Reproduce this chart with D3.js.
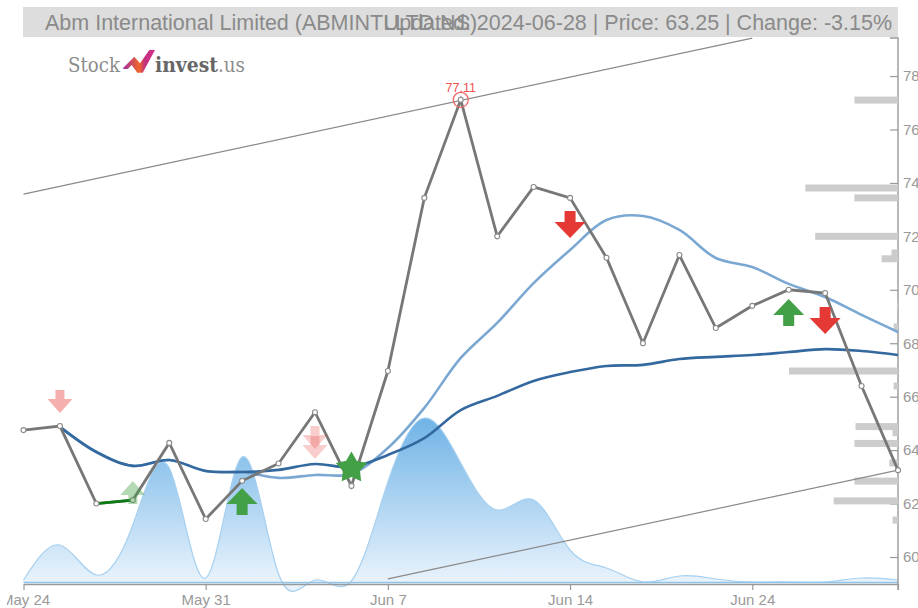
<!DOCTYPE html>
<html><head><meta charset="utf-8">
<script src="https://cdnjs.cloudflare.com/ajax/libs/d3/7.8.5/d3.min.js"></script>
<style>html,body{margin:0;padding:0;background:#fff;overflow:hidden}svg{display:block}text{font-family:"Liberation Sans",Arial,sans-serif}</style>
</head><body><svg id="c" width="918" height="608"></svg>
<script>
const dates=["May 24","May 27","May 28","May 29","May 30","May 31","Jun 3","Jun 4","Jun 5","Jun 6","Jun 7","Jun 10","Jun 11","Jun 12","Jun 13","Jun 14","Jun 18","Jun 19","Jun 20","Jun 21","Jun 24","Jun 25","Jun 26","Jun 27","Jun 28"];
const xTickLabels=["May 24","May 31","Jun 7","Jun 14","Jun 24"];
const yTicks=[60,62,64,66,68,70,72,74,76,78];
const closes=[64.75,64.9,62.0,62.13,64.27,61.42,62.85,63.5,65.42,62.66,66.96,73.44,77.11,72.0,73.85,73.44,71.2,68.0,71.3,68.57,69.4,70.0,69.88,66.4,63.25];
const maShort=[null,64.87,63.93,63.41,63.63,63.22,63.18,63.26,63.48,63.37,63.82,64.45,65.5,66.03,66.59,66.92,67.15,67.19,67.41,67.49,67.56,67.67,67.78,67.71,67.56];
const maLong=[null,64.87,63.93,63.41,63.63,63.22,63.18,62.96,63.07,63.11,64.08,65.58,67.45,68.76,70.25,71.49,72.61,72.76,72.24,71.19,70.85,70.22,69.73,69.06,68.42];
const volumes=[2,37,7,57,114,4,125,8,2,1,100,164,119,72,82,32,14,0,6,3,0,0,0,4,2];
const barPrices=[77.1,73.81,73.44,72.0,71.38,71.16,69.39,68.61,66.96,66.4,64.88,64.65,64.25,63.52,62.84,62.1,61.38];
const barSizes=[40,85,40,76,6,15,1,4,100,4,39,5,40,8,40,59,5];
const upperTrend=[[0,73.58],[20,79.42]];
const lowerTrend=[[10,59.18],[24,63.25]];
const signalIndex=[1,3,6,8,8,9,15,21,22];
const signalPrice=[65.39,62.84,62.58,64.04,63.67,63.33,71.94,69.66,68.35];
const signalKind=["down","up","up","down","down","star","down","up","down"];
const signalFade=[0.4,0.4,1,0.25,0.25,1,1,1,1];
const highIndex=12, highValue=77.11;
const greenRun=[2,3];

const svg=d3.select("#c");
const L=23.5,R=898,T=38,B=584;
const x=d3.scaleLinear().domain([0,24]).range([L,R]);
const y=d3.scaleLinear().domain([60,78]).range([557,76.04]);
const yv=d3.scaleLinear().domain([0,164]).range([582,418]);
const xb=d3.scaleLinear().domain([0,100]).range([R,R-109]);
const defs=svg.append("defs");
const grad=defs.append("linearGradient").attr("id","vg").attr("gradientUnits","userSpaceOnUse").attr("x1",0).attr("x2",0).attr("y1",418).attr("y2",582);
grad.append("stop").attr("offset",0).attr("stop-color","#6fb3e6");
grad.append("stop").attr("offset",1).attr("stop-color","#e9f3fc");
const lg=defs.append("linearGradient").attr("id","lg").attr("x1",0).attr("x2",1).attr("y1",0).attr("y2",0);
lg.append("stop").attr("offset",0).attr("stop-color","#a02fa0");
lg.append("stop").attr("offset",.5).attr("stop-color","#f0662a");
lg.append("stop").attr("offset",.68).attr("stop-color","#c2307f");
lg.append("stop").attr("offset",1).attr("stop-color","#d8308a");
defs.append("clipPath").attr("id","pc2").append("rect").attr("x",7).attr("y",-10).attr("width",911).attr("height",40);

// title band
svg.append("rect").attr("x",23).attr("y",7).attr("width",875).attr("height",30).attr("fill","#dddddd");
svg.append("text").attr("x",45).attr("y",29.5).attr("font-size",21.5).attr("fill","#8a8a8a").text("Abm International Limited (ABMINTLLTD.NS)");
svg.append("text").attr("x",892).attr("y",29.5).attr("text-anchor","end").attr("font-size",21.5).attr("fill","#8a8a8a").text("Updated: 2024-06-28 | Price: 63.25 | Change: -3.15%");

// logo
const logo=svg.append("g");
logo.append("text").attr("x",68).attr("y",71.5).attr("font-size",20).attr("fill","#8c8c8c").style("font-family","'DejaVu Serif'").attr("textLength",52).attr("lengthAdjust","spacingAndGlyphs").text("Stock");
logo.append("path").attr("d","M123.3,67.7 L134.3,56.7 L140,63.3 L149.3,50 L155,50 L142.7,72.7 L137.3,72.7 L131.7,65 L127.7,69 L123.3,69 Z").attr("fill","url(#lg)");
logo.append("text").attr("x",155).attr("y",71.5).attr("font-size",20).attr("fill","#666").attr("font-weight",700).style("font-family","'DejaVu Serif'").attr("textLength",63).attr("lengthAdjust","spacingAndGlyphs").text("invest");
logo.append("text").attr("x",218).attr("y",71.5).attr("font-size",20).attr("fill","#8c8c8c").style("font-family","'DejaVu Serif'").attr("textLength",27).attr("lengthAdjust","spacingAndGlyphs").text(".us");

// volume area
const idx=d3.range(dates.length);
const area=d3.area().x(i=>x(i)).y0(582).y1(i=>yv(volumes[i])).curve(d3.curveNatural);
svg.append("path").attr("d",area(idx)).attr("fill","url(#vg)");
svg.append("path").attr("d",d3.line().x(i=>x(i)).y(i=>yv(volumes[i])).curve(d3.curveNatural)(idx)).attr("fill","none").attr("stroke","#a6d0f0").attr("stroke-width",1.2);
svg.append("line").attr("x1",L).attr("x2",R).attr("y1",582.5).attr("y2",582.5).attr("stroke","#8fc3ea").attr("stroke-width",1.5);

// axes
const fmt=i=>dates[i];
const xTicks=xTickLabels.map(d=>dates.indexOf(d)).concat([24]);
const ax=svg.append("g").attr("transform",`translate(0,${B})`).attr("clip-path","url(#pc2)")
 .call(d3.axisBottom(x).tickValues(xTicks).tickFormat(i=>i===24?"":fmt(i)).tickSize(6).tickSizeOuter(0).tickPadding(6));
const ay=svg.append("g").attr("transform",`translate(${R},0)`)
 .call(d3.axisRight(y).tickValues(yTicks).tickSize(-8).tickSizeOuter(-8).tickPadding(5).tickFormat(d3.format("d")));
ay.select(".domain").attr("d",`M-8,${T}H0V${B+6}`);
[ax,ay].forEach(g=>{g.selectAll(".domain").attr("stroke","#999").attr("stroke-width",1.4).attr("fill","none");
 g.selectAll(".tick line").attr("stroke","#999").attr("stroke-width",1.2);
 g.selectAll("text").attr("fill","#999").attr("font-size",15).style("font-family","'Liberation Sans'");});
ax.selectAll(".tick text").attr("dy","0.62em").attr("dx",i=>i===0?1.5:0);

// volume-at-price bars
svg.append("g").selectAll("rect").data(barPrices).join("rect")
 .attr("x",(d,i)=>xb(barSizes[i])).attr("y",d=>y(d)-3.5).attr("width",(d,i)=>R-xb(barSizes[i])).attr("height",7).attr("fill","#cccccc");

// trend channel
const tl=d3.line().x(d=>x(d[0])).y(d=>y(d[1]));
[upperTrend,lowerTrend].forEach(t=>svg.append("path").attr("d",tl(t)).attr("fill","none").attr("stroke","#8a8a8a").attr("stroke-width",1.2));

// moving averages
const ma=arr=>d3.line().defined(i=>arr[i]!=null).x(i=>x(i)).y(i=>y(arr[i])).curve(d3.curveCatmullRom.alpha(.5))(idx);
svg.append("path").attr("d",ma(maLong)).attr("fill","none").attr("stroke","#7ba8d2").attr("stroke-width",2.6);
svg.append("path").attr("d",ma(maShort)).attr("fill","none").attr("stroke","#34699f").attr("stroke-width",2.6);

// price
svg.append("path").attr("d",d3.line().x(i=>x(i)).y(i=>y(closes[i]))(idx)).attr("fill","none").attr("stroke","#777").attr("stroke-width",2.8);
svg.append("path").attr("d",d3.line().x(i=>x(i)).y(i=>y(closes[i]))(greenRun)).attr("fill","none").attr("stroke","#0b7d12").attr("stroke-width",2.8);
svg.append("g").selectAll("circle").data(idx).join("circle").attr("cx",i=>x(i)).attr("cy",i=>y(closes[i])).attr("r",2.5).attr("fill","#fff").attr("stroke","#8a8a8a").attr("stroke-width",1.1);

// high marker
svg.append("circle").attr("cx",x(highIndex)).attr("cy",y(highValue)).attr("r",7.5).attr("fill","none").attr("stroke","#ee6a6a").attr("stroke-width",1.3);
svg.append("text").attr("x",x(highIndex)).attr("y",y(highValue)-8).attr("text-anchor","middle").attr("font-size",12.5).attr("fill","#f05050").text(highValue);

// signals
const sg=svg.append("g");
signalIndex.forEach((si,k)=>{
 const cx=x(si),ty=y(signalPrice[k]),kind=signalKind[k];
 const col=kind==="up"?"#43a047":kind==="down"?"#e53935":"#43a047";
 const big=signalFade[k]===1;
 let d;
 if(kind==="star"){
  const pts=[];for(let a=0;a<10;a++){const r=a%2?9:16.5,t=-Math.PI/2+a*Math.PI/5;pts.push([cx+r*Math.cos(t),ty+r*Math.sin(t)]);}
  d=d3.line()(pts)+"Z";
 } else {
  const hw=big?15.5:12.5,sw=big?5.5:4.5,hh=big?16:14,tot=big?27:23,s=kind==="up"?1:-1;
  d=d3.line()([[cx,ty],[cx+hw,ty+s*hh],[cx+sw,ty+s*hh],[cx+sw,ty+s*tot],[cx-sw,ty+s*tot],[cx-sw,ty+s*hh],[cx-hw,ty+s*hh]])+"Z";
 }
 sg.append("path").attr("d",d).attr("fill",col).attr("opacity",signalFade[k]);
});
</script></body></html>
